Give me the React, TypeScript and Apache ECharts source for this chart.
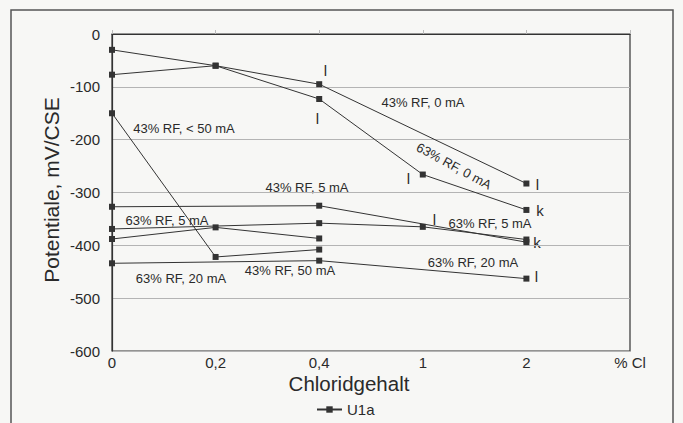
import React, { useEffect, useRef } from "react";
import * as echarts from "echarts";

const categories = ["0", "0,2", "0,4", "1", "2", "% Cl"];
const rf63_0mA = [-30, -60, -123, -266, -333];
const rf43_0mA = [-77, -60, -95, null, -283];
const rf43_lt50mA = [-150, -422, -408, null, null];
const rf43_5mA = [-327, null, -325, null, -394];
const rf63_5mA_a = [-369, null, -358, -365, -389];
const rf63_5mA_b = [-388, -366, -387, null, null];
const rf63_20mA = [-434, null, -429, null, -463];
const seriesValues = [rf63_0mA, rf43_0mA, rf43_lt50mA, rf43_5mA, rf63_5mA_a, rf63_5mA_b, rf63_20mA];

const FONT = "'Liberation Sans', Arial, sans-serif";
const INK = "#2a2a2a";

type Note = { t: string; x: number; y: number; s: number; r?: number };
const notes: Note[] = [
  { t: "43% RF, < 50 mA", x: 184, y: 128.5, s: 13 },
  { t: "43% RF, 0 mA", x: 423, y: 102, s: 13 },
  { t: "63% RF, 0 mA", x: 454, y: 166, s: 13, r: -28.5 },
  { t: "43% RF, 5 mA", x: 307, y: 187, s: 13 },
  { t: "63% RF, 5 mA", x: 167, y: 220, s: 13 },
  { t: "63% RF, 5 mA", x: 490, y: 223.5, s: 13 },
  { t: "63% RF, 20 mA", x: 181, y: 278, s: 13 },
  { t: "43% RF, 50 mA", x: 290, y: 270, s: 13 },
  { t: "63% RF, 20 mA", x: 473, y: 262, s: 13 },
  { t: "l", x: 325.5, y: 70.5, s: 15 },
  { t: "l", x: 317.5, y: 118.5, s: 15 },
  { t: "l", x: 408.5, y: 178.5, s: 15 },
  { t: "l", x: 537.5, y: 184, s: 15 },
  { t: "k", x: 540, y: 210, s: 15 },
  { t: "l", x: 434.5, y: 219.5, s: 15 },
  { t: "k", x: 537, y: 242.5, s: 15 },
  { t: "l", x: 536.5, y: 276, s: 15 },
];

export default function App() {
  const ref = useRef<HTMLDivElement>(null);
  useEffect(() => {
    if (!ref.current) return;
    const chart = echarts.init(ref.current, null, { renderer: "svg" });
    const graphics: any[] = [
      {
        type: "rect",
        shape: { x: 11, y: 10, width: 662, height: 430 },
        style: { fill: "none", stroke: "#555", lineWidth: 1.5 },
        silent: true,
      },
      {
        type: "text",
        x: 51,
        y: 190,
        rotation: Math.PI / 2,
        style: { text: "Potentiale, mV/CSE", font: `21px ${FONT}`, fill: INK, align: "center", verticalAlign: "middle" },
      },
      {
        type: "text",
        x: 349,
        y: 383,
        style: { text: "Chloridgehalt", font: `20.5px ${FONT}`, fill: INK, align: "center", verticalAlign: "middle" },
      },
      ...notes.map((n) => ({
        type: "text",
        x: n.x,
        y: n.y,
        rotation: n.r ? (n.r * Math.PI) / 180 : 0,
        style: { text: n.t, font: `${n.s}px ${FONT}`, fill: INK, align: "center", verticalAlign: "middle" },
      })),
    ];
    chart.setOption({
      animation: false,
      backgroundColor: "#f7f7f5",
      textStyle: { fontFamily: FONT },
      grid: { left: 112, top: 34, width: 518, height: 317, show: true, borderColor: "#333", borderWidth: 1.2, backgroundColor: "transparent" },
      legend: {
        data: ["U1a"],
        left: 311,
        top: 397,
        itemWidth: 25,
        itemHeight: 8,
        itemGap: 5,
        textStyle: { fontSize: 15, color: INK, fontFamily: FONT },
      },
      xAxis: {
        type: "category",
        data: categories,
        boundaryGap: false,
        axisLine: { lineStyle: { color: "#333", width: 1.2 } },
        axisTick: { show: true, inside: true, length: 4, lineStyle: { color: "#bbb" } },
        axisLabel: { fontSize: 15, color: INK, margin: 4, fontFamily: FONT },
        splitLine: { show: false },
      },
      yAxis: {
        type: "value",
        min: -600,
        max: 0,
        interval: 100,
        axisLine: { show: true, lineStyle: { color: "#333", width: 1.2 } },
        axisTick: { show: false },
        axisLabel: { fontSize: 15, color: INK, margin: 12, fontFamily: FONT },
        splitLine: { show: true, lineStyle: { color: "#b4b4b4", width: 1 } },
      },
      series: seriesValues.map((d) => ({
        name: "U1a",
        type: "line",
        data: d,
        connectNulls: true,
        symbol: "rect",
        symbolSize: 6,
        itemStyle: { color: "#333" },
        lineStyle: { color: "#333", width: 1 },
      })),
      graphic: graphics,
    });
    return () => chart.dispose();
  }, []);
  return <div ref={ref} style={{ position: "fixed", left: 0, top: 0, width: 683, height: 423 }} />;
}
